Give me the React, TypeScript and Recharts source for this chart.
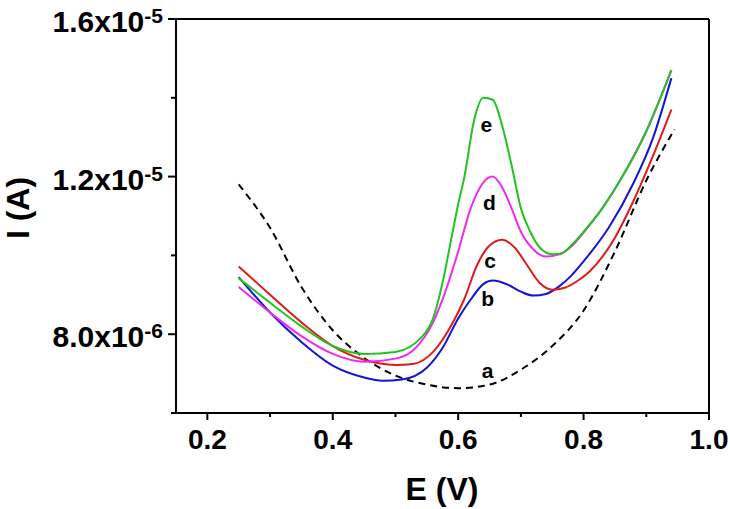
import React from "react";
import { LineChart, Line, XAxis, YAxis, ReferenceLine, ReferenceDot, Label } from "recharts";

// current in units of 1e-6 A, potential in V
const aE = [0.25, 0.3, 0.35, 0.4, 0.45, 0.5, 0.55, 0.6, 0.65, 0.7, 0.75, 0.8, 0.85, 0.9, 0.945];
const aI = [11.8, 10.7, 9.2, 8.1, 7.4, 6.95, 6.72, 6.63, 6.72, 7.1, 7.7, 8.6, 10.1, 11.9, 13.2];

const bE = [0.25, 0.3, 0.35, 0.4, 0.45, 0.48, 0.51, 0.55, 0.575, 0.6, 0.62, 0.64, 0.655, 0.68, 0.7, 0.72, 0.74, 0.76, 0.78, 0.8, 0.84, 0.88, 0.91, 0.94];
const bI = [9.45, 8.55, 7.8, 7.2, 6.9, 6.82, 6.85, 7.15, 7.65, 8.4, 8.88, 9.27, 9.36, 9.25, 9.08, 8.98, 9.02, 9.2, 9.48, 9.85, 10.7, 11.85, 12.95, 14.5];

const cE = [0.25, 0.3, 0.35, 0.4, 0.45, 0.5, 0.53, 0.56, 0.59, 0.61, 0.63, 0.65, 0.67, 0.69, 0.71, 0.73, 0.75, 0.77, 0.79, 0.81, 0.85, 0.88, 0.91, 0.94];
const cI = [9.72, 9.0, 8.3, 7.7, 7.35, 7.22, 7.25, 7.55, 8.25, 8.9, 9.75, 10.25, 10.4, 10.2, 9.75, 9.3, 9.13, 9.18, 9.35, 9.6, 10.45, 11.4, 12.5, 13.7];

const dE = [0.25, 0.3, 0.35, 0.4, 0.45, 0.5, 0.53, 0.56, 0.58, 0.6, 0.62, 0.64, 0.655, 0.67, 0.685, 0.7, 0.72, 0.74, 0.76, 0.78, 0.8, 0.83, 0.86, 0.9, 0.94];
const dI = [9.2, 8.55, 7.95, 7.5, 7.3, 7.38, 7.62, 8.3, 9.1, 10.1, 11.2, 11.85, 12.0, 11.73, 11.2, 10.6, 10.15, 9.97, 10.02, 10.22, 10.58, 11.2, 11.95, 13.15, 14.7];

const eE = [0.25, 0.3, 0.35, 0.4, 0.45, 0.5, 0.54, 0.56, 0.575, 0.59, 0.6, 0.61, 0.625, 0.64, 0.655, 0.67, 0.685, 0.7, 0.715, 0.73, 0.75, 0.765, 0.78, 0.8, 0.83, 0.86, 0.9, 0.94];
const eI = [9.42, 8.8, 8.2, 7.7, 7.5, 7.55, 7.9, 8.4, 9.3, 10.5, 11.3, 12.0, 13.4, 14.0, 13.95, 13.3, 12.3, 11.2, 10.6, 10.2, 10.03, 10.05, 10.25, 10.6, 11.2, 11.95, 13.15, 14.7];

const xTicks = [0.2, 0.3, 0.4, 0.5, 0.6, 0.7, 0.8, 0.9, 1.0];
const yTicks = [6, 8, 10, 12, 14, 16];

const curveLabels = [
  { id: "a", E: 0.647, I: 7.07 },
  { id: "b", E: 0.647, I: 8.9 },
  { id: "c", E: 0.651, I: 9.87 },
  { id: "d", E: 0.65, I: 11.32 },
  { id: "e", E: 0.645, I: 13.3 },
];

const toRows = (E: number[], I: number[]) => E.map((x, i) => ({ E: x, I: I[i] }));

const series = [
  { key: "a", data: toRows(aE, aI), color: "#000000", dash: "7 5" },
  { key: "b", data: toRows(bE, bI), color: "#1414d8", dash: undefined },
  { key: "c", data: toRows(cE, cI), color: "#e01b1b", dash: undefined },
  { key: "d", data: toRows(dE, dI), color: "#ee2cee", dash: undefined },
  { key: "e", data: toRows(eE, eI), color: "#22c322", dash: undefined },
];

const font = "'Liberation Sans', Arial, sans-serif";

function XTick({ x, y, payload }: any) {
  const v = payload.value;
  const major = Math.round(v * 10) % 2 === 0;
  return (
    <g>
      <line x1={x} x2={x} y1={y} y2={y + (major ? 7 : 4)} stroke="#000" strokeWidth={2} />
      {major && (
        <text x={x} y={y + 36} textAnchor="middle" fontSize={28} fontWeight="bold" fontFamily={font} fill="#000">
          {v.toFixed(1)}
        </text>
      )}
    </g>
  );
}

function YTick({ x, y, payload }: any) {
  const v = payload.value;
  const major = v % 4 === 0;
  const mant = v >= 10 ? (v / 10).toFixed(1) : v.toFixed(1);
  const exp = v >= 10 ? "-5" : "-6";
  return (
    <g>
      <line x1={x - (major ? 8 : 5)} x2={x} y1={y} y2={y} stroke="#000" strokeWidth={2} />
      {major && (
        <text x={x - 13} y={y + 13} textAnchor="end" fontSize={30} fontWeight="bold" fontFamily={font} fill="#000">
          {mant + "x10"}
          <tspan fontSize={21} dy={-9}>{exp}</tspan>
        </text>
      )}
    </g>
  );
}

export default function App() {
  return (
    <div style={{ width: 730, height: 509, background: "#fff" }}>
      <style>{`body{margin:0}`}</style>
      <LineChart width={730} height={509} margin={{ top: 19, right: 21, left: 0, bottom: 0 }}>
        <XAxis
          type="number"
          dataKey="E"
          domain={[0.15, 1.0]}
          ticks={xTicks}
          allowDataOverflow
          height={96}
          tickSize={0}
          tickMargin={0}
          tickLine={false}
          tick={<XTick />}
          axisLine={{ stroke: "#000", strokeWidth: 2 }}
          interval={0}
        >
          <Label
            content={() => (
              <text x={442} y={500} textAnchor="middle" fontSize={32} fontWeight="bold" fontFamily={font} fill="#000">
                E (V)
              </text>
            )}
          />
        </XAxis>
        <YAxis
          type="number"
          domain={[6, 16]}
          ticks={yTicks}
          allowDataOverflow
          width={176}
          tickSize={0}
          tickMargin={0}
          tickLine={false}
          tick={<YTick />}
          axisLine={{ stroke: "#000", strokeWidth: 2 }}
          interval={0}
        >
          <Label
            content={() => (
              <text
                transform="rotate(-90)"
                x={-208}
                y={29}
                textAnchor="middle"
                fontSize={32}
                fontWeight="bold"
                fontFamily={font}
                fill="#000"
              >
                I (A)
              </text>
            )}
          />
        </YAxis>
        <ReferenceLine y={16} stroke="#000" strokeWidth={2} />
        <ReferenceLine x={1.0} stroke="#000" strokeWidth={2} />
        {series.map((s) => (
          <Line
            key={s.key}
            data={s.data}
            dataKey="I"
            type="monotone"
            stroke={s.color}
            strokeWidth={2}
            strokeDasharray={s.dash}
            dot={false}
            activeDot={false}
            isAnimationActive={false}
          />
        ))}
        {curveLabels.map((l) => (
          <ReferenceDot
            key={l.id}
            x={l.E}
            y={l.I}
            r={0}
            shape={(p: any) => (
              <text x={p.cx} y={p.cy + 7} textAnchor="middle" fontSize={21} fontWeight="bold" fontFamily={font} fill="#000">
                {l.id}
              </text>
            )}
          />
        ))}
      </LineChart>
    </div>
  );
}
